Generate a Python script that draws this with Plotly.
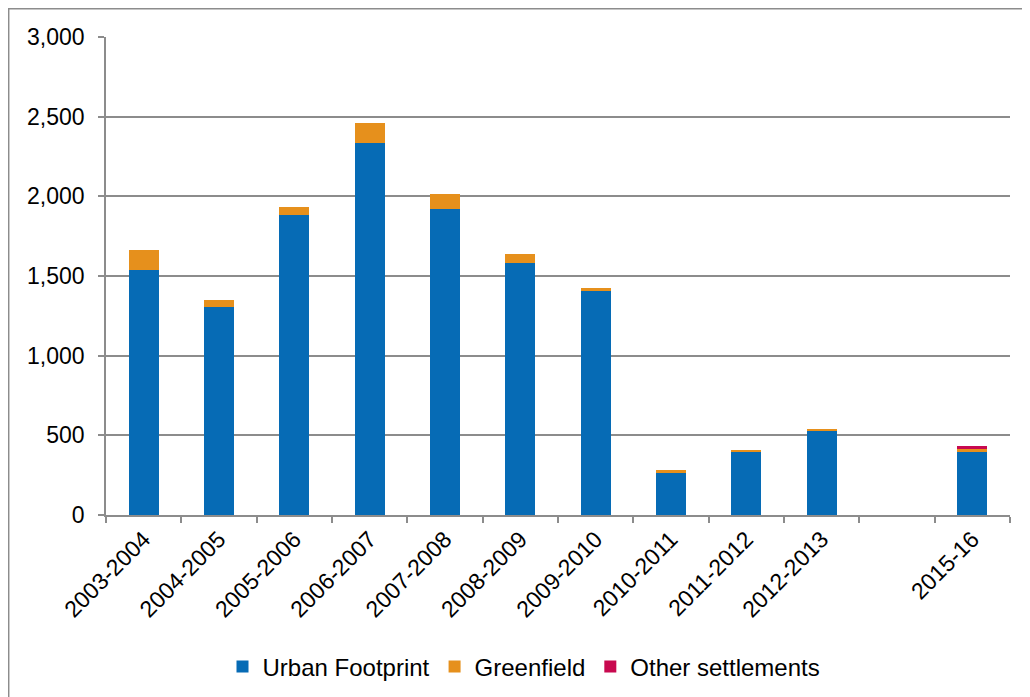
import plotly.graph_objects as go

categories = ["2003-2004", "2004-2005", "2005-2006", "2006-2007", "2007-2008",
              "2008-2009", "2009-2010", "2010-2011", "2011-2012", "2012-2013",
              " ", "2015-16"]
urban_footprint = [1535, 1305, 1883, 2337, 1922, 1583, 1408, 266, 397, 527, None, 397]
greenfield = [128, 45, 48, 122, 93, 55, 15, 14, 9, 13, None, 17]
other_settlements = [None, None, None, None, None, None, None, None, None, None, None, 21]
y_ticks = [0, 500, 1000, 1500, 2000, 2500, 3000]

FONT = "Liberation Sans, Arial, sans-serif"
FS = 23

fig = go.Figure()
fig.add_bar(x=categories, y=urban_footprint, name="Urban Footprint",
            marker=dict(color="#066BB5", line=dict(width=0)))
fig.add_bar(x=categories, y=greenfield, name="Greenfield",
            marker=dict(color="#E6901C", line=dict(width=0)))
fig.add_bar(x=categories, y=other_settlements, name="Other settlements",
            marker=dict(color="#C8094F", line=dict(width=0)))

# page body has an 8px margin, so the figure is laid out 8px smaller / shifted
OFF = 8
W, H = 1030 - OFF, 697 - OFF
L, T = 106 - OFF, 37 - OFF
R = W - (1010 - OFF)
B = H - (515 - OFF)
pw = W - L - R
ph = H - T - B

def px_x(x):
    return (x - OFF - L) / pw

def px_y(y):
    return (H - B - (y - OFF)) / ph

fig.update_layout(
    width=W, height=H,
    margin=dict(l=L, r=R, t=T, b=B, autoexpand=False),
    barmode="stack",
    bargap=0.6,
    plot_bgcolor="white",
    paper_bgcolor="white",
    font=dict(family=FONT, size=FS, color="#000000"),
    showlegend=True,
    legend=dict(orientation="h", x=px_x(524), xanchor="center",
                y=px_y(667), yanchor="middle",
                font=dict(family=FONT, size=24, color="#000000"),
                traceorder="normal", itemwidth=30),
    shapes=[dict(type="rect", xref="paper", yref="paper",
                 x0=px_x(8.7), x1=px_x(1045), y0=px_y(8.7), y1=px_y(715),
                 line=dict(color="#8C8C8C", width=1.5), fillcolor="rgba(0,0,0,0)",
                 layer="below")],
)
fig.update_xaxes(
    type="category", categoryorder="array", categoryarray=categories,
    tickangle=-45, tickson="boundaries", ticks="outside", ticklen=6,
    tickcolor="#8C8C8C", tickwidth=1.5, automargin=False,
    showline=True, linecolor="#8C8C8C", linewidth=1.5,
    showgrid=False, tickfont=dict(family=FONT, size=FS, color="#000000"),
)
fig.update_yaxes(
    range=[0, 3000], tickvals=y_ticks, tickformat=",",
    ticks="outside", ticklen=6, tickcolor="#8C8C8C", tickwidth=1.5,
    showline=True, linecolor="#8C8C8C", linewidth=1.5, automargin=False,
    showgrid=True, gridcolor="#8C8C8C", gridwidth=1.5,
    zeroline=False, ticklabelstandoff=9,
    tickfont=dict(family=FONT, size=FS, color="#000000"),
)

fig.write_html("out.html")
